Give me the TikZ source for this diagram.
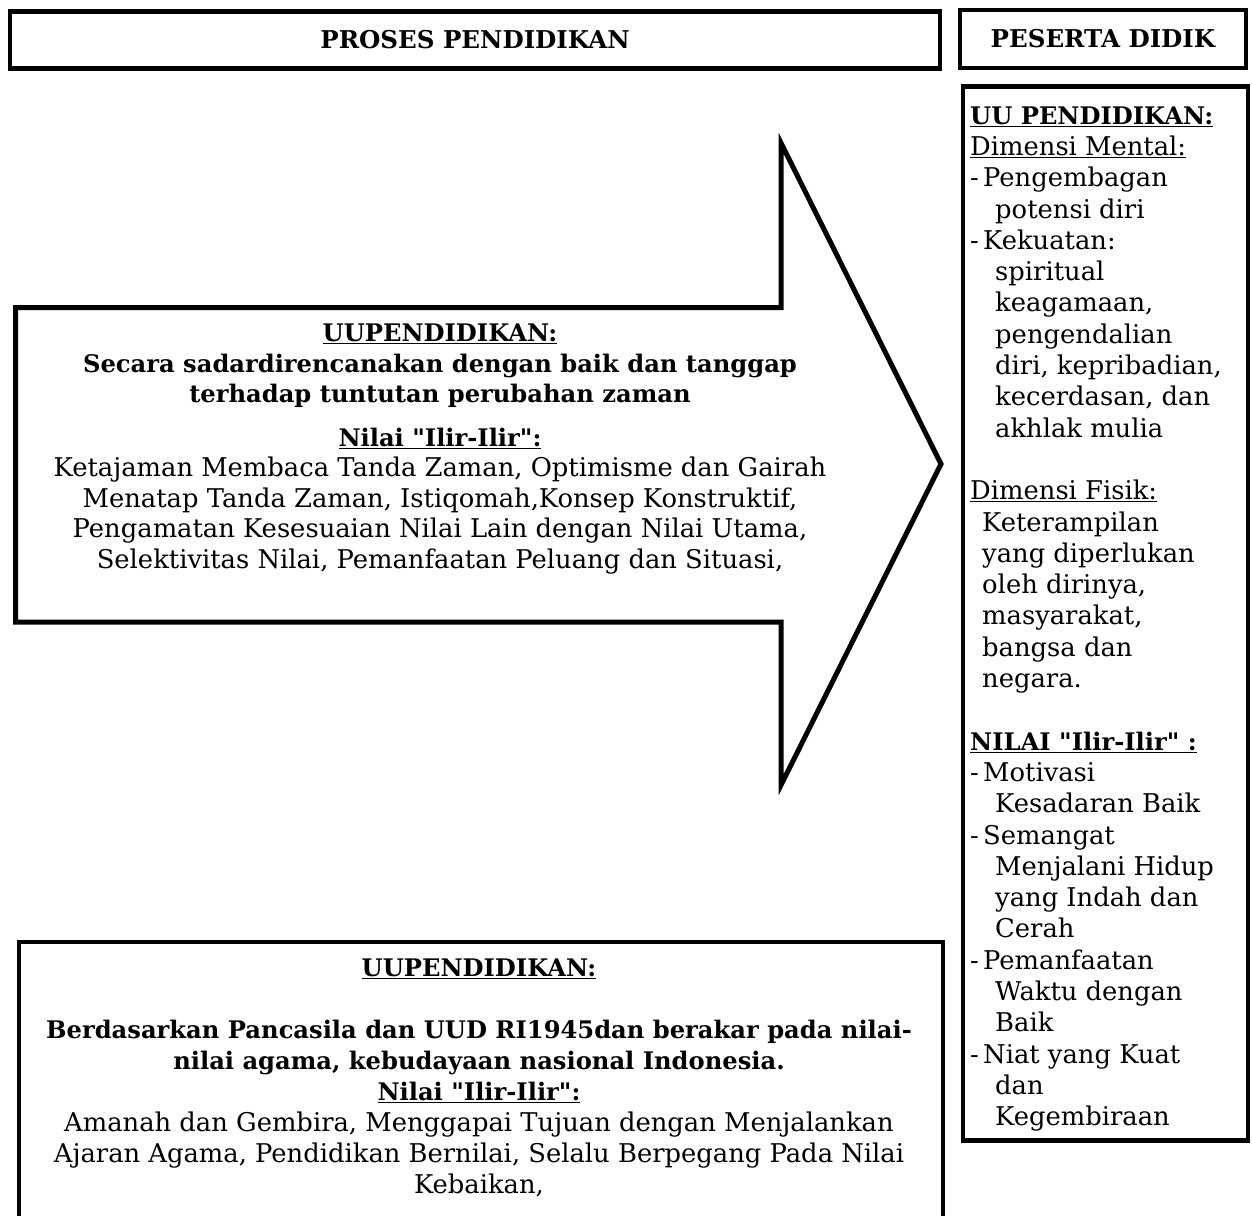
\documentclass[tikz,border=0pt]{standalone}
\usepackage{fontspec}
\setmainfont{DejaVu Serif}[Ligatures=TeXOff]
\usetikzlibrary{positioning}
\newcommand{\itemdash}{\makebox[13pt][l]{-}}
\newcommand{\contind}{\hspace*{25pt}}
\newcommand{\hb}[1]{{\fontsize{24.2}{30}\selectfont\bfseries #1}}

\begin{document}
\begin{tikzpicture}[
        x=1pt, y=-1pt,
        panel/.style={draw=black, line width=4.5pt},
        heading/.style={panel, inner sep=0pt, font=\bfseries\fontsize{24.5}{28}\selectfont},
        textblock/.style={inner sep=0pt, font=\fontsize{25.8}{31}\selectfont},
        shaft/.style={draw=black, line width=5pt, line join=miter, fill=white}
    ]
        \useasboundingbox (0,0) rectangle (1252,1215);
        \clip (0,0) rectangle (1252,1215);

        % headers
        \node[heading, minimum width=930pt, minimum height=57pt] (proses) at (475,40) {PROSES PENDIDIKAN};
        \node[heading, minimum width=286pt, minimum height=58pt] (peserta) at (1103,39) {PESERTA DIDIK};

        % big arrow
        \draw[shaft] (15.5,307.5) -- (781,307.5) -- (781,143) -- (941,464) -- (781,785) -- (781,622) -- (15.5,622) -- cycle;
        \node[textblock, align=center, anchor=north, font=\fontsize{25.8}{30.5}\selectfont] (proses text) at (440,320) {%
            \strut\underline{\hb{UUPENDIDIKAN:}}\\
            \hb{Secara sadardirencanakan dengan baik dan tanggap}\\
            \hb{terhadap tuntutan perubahan zaman}\\[13pt]
            \underline{\hb{Nilai "Ilir-Ilir":}}\\
            Ketajaman Membaca Tanda Zaman, Optimisme dan Gairah\\
            Menatap Tanda Zaman, Istiqomah,Konsep Konstruktif,\\
            Pengamatan Kesesuaian Nilai Lain dengan Nilai Utama,\\
            Selektivitas Nilai, Pemanfaatan Peluang dan Situasi,};

        % right column
        \node[panel, minimum width=285pt, minimum height=1054pt, anchor=north west] (peserta box) at (960.5,84) {};
        \node[textblock, align=left, anchor=north west, font=\fontsize{25.8}{31.3}\selectfont] (peserta text) at (970,102) {%
            \strut\underline{\hb{UU PENDIDIKAN:}}\\
            \underline{Dimensi Mental:}\\
            \itemdash Pengembagan\\
            \contind potensi diri\\
            \itemdash Kekuatan:\\
            \contind spiritual\\
            \contind keagamaan,\\
            \contind pengendalian\\
            \contind diri, kepribadian,\\
            \contind kecerdasan, dan\\
            \contind akhlak mulia\\
            \mbox{}\\
            \underline{Dimensi Fisik:}\\
            \hspace*{12pt}Keterampilan\\
            \hspace*{12pt}yang diperlukan\\
            \hspace*{12pt}oleh dirinya,\\
            \hspace*{12pt}masyarakat,\\
            \hspace*{12pt}bangsa dan\\
            \hspace*{12pt}negara.\\
            \mbox{}\\
            \underline{\hb{NILAI "Ilir-Ilir" :}}\\
            \itemdash Motivasi\\
            \contind Kesadaran Baik\\
            \itemdash Semangat\\
            \contind Menjalani Hidup\\
            \contind yang Indah dan\\
            \contind Cerah\\
            \itemdash Pemanfaatan\\
            \contind Waktu dengan\\
            \contind Baik\\
            \itemdash Niat yang Kuat\\
            \contind dan\\
            \contind Kegembiraan};

        % bottom box
        \node[panel, minimum width=924pt, minimum height=300pt, anchor=north west] (dasar box) at (16.5,939.5) {};
        \node[textblock, align=center, anchor=north] (dasar text) at (479,955) {%
            \strut\underline{\hb{UUPENDIDIKAN:}}\\
            \mbox{}\\
            \hb{Berdasarkan Pancasila dan UUD RI1945dan berakar pada nilai-}\\
            \hb{nilai agama, kebudayaan nasional Indonesia.}\\
            \underline{\hb{Nilai "Ilir-Ilir":}}\\
            Amanah dan Gembira, Menggapai Tujuan dengan Menjalankan\\
            Ajaran Agama, Pendidikan Bernilai, Selalu Berpegang Pada Nilai\\
            Kebaikan,};
    \end{tikzpicture}
\end{document}
